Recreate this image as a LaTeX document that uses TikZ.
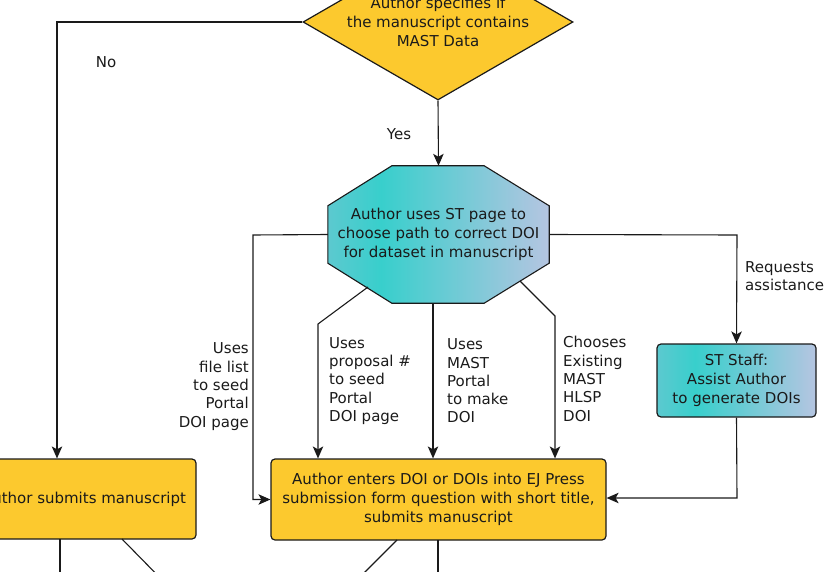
\documentclass[tikz,border=0pt]{standalone}
\usepackage{fontspec}
\setmainfont{DejaVu Sans}
\usetikzlibrary{shapes.geometric,arrows.meta}
\definecolor{gold}{HTML}{FCC92E}
\definecolor{ink}{HTML}{1A1A1A}
\definecolor{tealL}{HTML}{5CC9CF}
\definecolor{tealM}{HTML}{38CFCC}
\definecolor{tealR}{HTML}{B5C5E1}
\pgfdeclarehorizontalshading{tealshade}{100bp}{color(0bp)=(tealL); color(25bp)=(tealL);
  color(37bp)=(tealM); color(75bp)=(tealR); color(100bp)=(tealR)}
\tikzset{
  txt/.style={font=\fontsize{15}{18.8}\selectfont, text=ink, align=center},
  decision/.style={txt, diamond, draw=ink, fill=gold, line width=1.2pt, inner sep=0pt,
                   minimum width=270pt, minimum height=156pt, aspect=1.73},
  stepbox/.style={txt, rectangle, rounded corners=4pt, draw=ink, line width=1.2pt},
  lbl/.style={font=\fontsize{15}{18.3}\selectfont, text=ink, inner sep=0pt},
  arr/.style={-{Stealth[length=12pt,width=10.5pt,inset=3pt]}, line width=1.1pt, draw=ink},
  ln/.style={line width=1.1pt, draw=ink}
}
\begin{document}
\begin{tikzpicture}[x=1pt,y=-1pt]
\useasboundingbox (0,0) rectangle (840,572);
\clip (0,0) rectangle (840,572);

\node[decision] (dec) at (438,22) {Author specifies if\\the manuscript contains\\MAST Data};
\node[txt, minimum width=221pt, minimum height=137pt, inner sep=0pt] (oct) at (438.5,234.5)
  {Author uses ST page to\\choose path to correct DOI\\for dataset in manuscript};
\node[stepbox, fill=gold, minimum width=224pt, minimum height=80pt] (sub) at (84,499) {Author submits manuscript};
\node[stepbox, fill=gold, minimum width=335pt, minimum height=81pt] (ejp) at (438.5,499.5)
  {Author enters DOI or DOIs into EJ Press\\submission form question with short title,\\submits manuscript};
\node[stepbox, shading=tealshade, minimum width=159pt, minimum height=73pt] (st) at (736.5,380.5)
  {ST Staff:\\Assist Author\\to generate DOIs};

% octagon outline
\draw[ln, shading=tealshade]
  ([xshift=64pt]oct.north west) -- ([xshift=-65pt]oct.north east)
  -- ([yshift=-40pt]oct.north east) -- ([yshift=40pt]oct.south east)
  -- ([xshift=-65pt]oct.south east) -- ([xshift=64pt]oct.south west)
  -- ([yshift=40pt]oct.south west) -- ([yshift=-40pt]oct.north west) -- cycle;
\node[txt] at (oct.center) {Author uses ST page to\\choose path to correct DOI\\for dataset in manuscript};

\node[lbl] (no) at (106,62) {No};
\node[lbl] (yes) at (399,134) {Yes};
\node[lbl, align=right, anchor=east] (lfile) at (249,386.5) {Uses\\file list\\to seed\\Portal\\DOI page};
\node[lbl, align=left, anchor=west] (lprop) at (329,381) {Uses\\proposal \#\\to seed\\Portal\\DOI page};
\node[lbl, align=left, anchor=west] (lmast) at (447,381) {Uses\\MAST\\Portal\\to make\\DOI};
\node[lbl, align=left, anchor=west] (lhlsp) at (563,379) {Chooses\\Existing\\MAST\\HLSP\\DOI};
\node[lbl, align=left, anchor=west] (lreq) at (745,276) {Requests\\assistance};

\coordinate (nocorner) at (57,22);
\coordinate (lcorner) at (253,235);
\coordinate (rcorner) at (737,235);
\coordinate (pdiag) at (368,287);
\coordinate (pbend) at (318,324);
\coordinate (mline) at (433,0);
\coordinate (hdiag) at (520,281);
\coordinate (hbend) at (555,316);
\coordinate (stdown) at (737,498);

\draw[arr] (dec.west) -- (nocorner) -- (nocorner |- sub.north);
\draw[arr] (dec.south) -- (oct.north);
\draw[arr] (oct.west) -- (lcorner) -- (lcorner |- ejp.west) -- (ejp.west);
\draw[arr] (pdiag) -- (pbend) -- (pbend |- ejp.north);
\draw[arr] (mline |- oct.south) -- (mline |- ejp.north);
\draw[arr] (hdiag) -- (hbend) -- (hbend |- ejp.north);
\draw[arr] (oct.east) -- (rcorner) -- (st.north);
\draw[arr] (st.south) -- (stdown) -- (stdown -| ejp.east);

\draw[ln] (60,539) -- (60,590);
\draw[ln] (122,539) -- (172,590);
\draw[ln] (397,540) -- (347,590);
\draw[ln] (438,540) -- (438,590);
\end{tikzpicture}
\end{document}
